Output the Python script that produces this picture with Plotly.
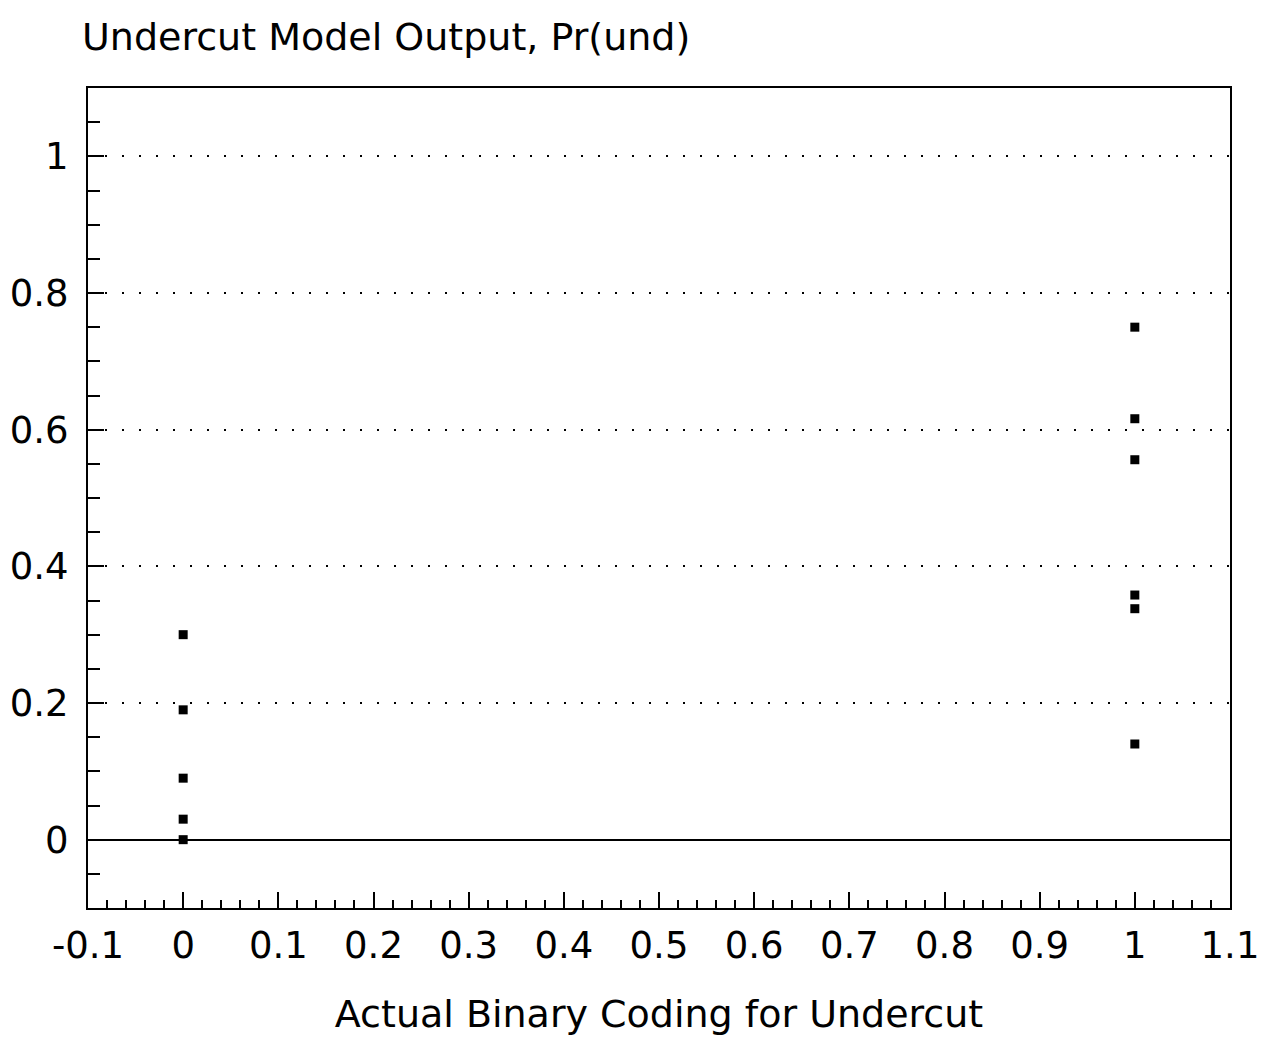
import plotly.graph_objects as go

# Data
x_actual = [0, 0, 0, 0, 0, 1, 1, 1, 1, 1, 1]
y_model = [0.30, 0.19, 0.09, 0.03, 0.0, 0.75, 0.616, 0.556, 0.358, 0.338, 0.14]

x_tickvals = [-0.1, 0, 0.1, 0.2, 0.3, 0.4, 0.5, 0.6, 0.7, 0.8, 0.9, 1, 1.1]
x_ticktext = ["-0.1", "0", "0.1", "0.2", "0.3", "0.4", "0.5", "0.6", "0.7", "0.8", "0.9", "1", "1.1"]
y_tickvals = [0, 0.2, 0.4, 0.6, 0.8, 1]
y_ticktext = ["0", "0.2", "0.4", "0.6", "0.8", "1"]

title_text = "Undercut Model Output, Pr(und)"
xaxis_title = "Actual Binary Coding for Undercut"

FONT = "DejaVu Sans, Liberation Sans, Arial, sans-serif"

fig = go.Figure()
fig.add_trace(go.Scatter(
    x=x_actual, y=y_model, mode="markers",
    marker=dict(symbol="square", size=9, color="black", line=dict(width=0)),
    showlegend=False,
))

fig.update_layout(
    width=1265, height=1043,
    margin=dict(l=88, r=35, t=88, b=135),
    paper_bgcolor="white", plot_bgcolor="white",
    font=dict(family=FONT, size=37, color="black"),
    title=dict(text=title_text, xref="container", yref="container",
               x=82 / 1265, xanchor="left", y=1 - 37 / 1043, yanchor="middle",
               font=dict(family=FONT, size=38, color="black")),
)

fig.update_xaxes(
    range=[-0.1, 1.1], tickvals=x_tickvals, ticktext=x_ticktext,
    ticks="inside", ticklen=16, tickwidth=2, tickcolor="black",
    minor=dict(dtick=0.02, tick0=0, ticks="inside", ticklen=8, tickwidth=2, tickcolor="black", showgrid=False),
    showline=True, linecolor="black", linewidth=2, mirror=True,
    showgrid=False, zeroline=False, automargin=False,
    ticklabelstandoff=4,
    tickfont=dict(family=FONT, size=37, color="black"),
    title=dict(text=xaxis_title, standoff=34, font=dict(family=FONT, size=38, color="black")),
)

fig.update_yaxes(
    range=[-0.1, 1.1], tickvals=y_tickvals, ticktext=y_ticktext,
    ticks="inside", ticklen=16, tickwidth=2, tickcolor="black",
    minor=dict(dtick=0.05, tick0=0, ticks="inside", ticklen=12, tickwidth=2, tickcolor="black", showgrid=False),
    showline=True, linecolor="black", linewidth=2, mirror=True,
    showgrid=True, gridcolor="black", gridwidth=2, griddash="2px,15px",
    zeroline=True, zerolinecolor="black", zerolinewidth=2, automargin=False,
    ticklabelstandoff=10,
    tickfont=dict(family=FONT, size=37, color="black"),
)

fig.write_html("out.html")
